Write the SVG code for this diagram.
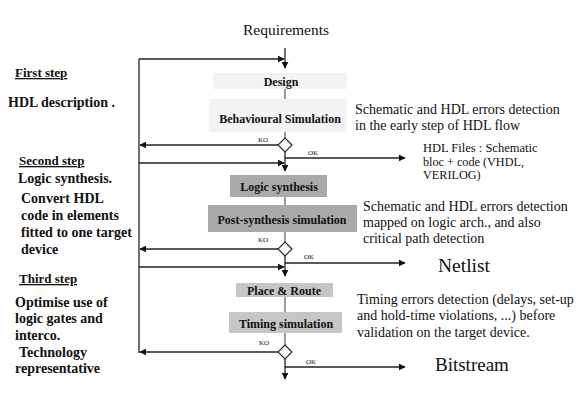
<svg xmlns="http://www.w3.org/2000/svg" width="588" height="419" viewBox="0 0 588 419">
<defs>
<style>
.t{font-family:"Liberation Serif","Times New Roman",serif;fill:#111}
.b{font-weight:bold}
.lbl{font-family:"Liberation Serif","Times New Roman",serif;font-weight:bold;font-size:12px;fill:#111;text-anchor:middle}
.sm{font-family:"Liberation Serif","Times New Roman",serif;font-size:7px;fill:#111}
.ln{stroke:#222;stroke-width:1.3;fill:none}
.ln2{stroke:#666;stroke-width:1.3;fill:none}
.dia{fill:#fff;stroke:#222;stroke-width:1.1}
</style>
<marker id="ah" viewBox="0 0 10 10" refX="9" refY="5" markerWidth="7" markerHeight="7" markerUnits="userSpaceOnUse" orient="auto">
<path d="M0,0 L10,5 L0,10 z" fill="#111"/>
</marker>
</defs>
<rect width="588" height="419" fill="#fff"/>

<text class="t" x="286" y="35" font-size="15.5" text-anchor="middle">Requirements</text>

<g id="left-text">
<text class="t b" x="15" y="77" font-size="13" text-decoration="underline">First step</text>
<text class="t b" x="8" y="107" font-size="14">HDL description .</text>
<text class="t b" x="19" y="165" font-size="13" text-decoration="underline">Second step</text>
<text class="t b" x="18" y="183" font-size="14">Logic synthesis.</text>
<text class="t b" x="21" y="203" font-size="14">Convert HDL</text>
<text class="t b" x="21" y="220" font-size="14">code in elements</text>
<text class="t b" x="21" y="237" font-size="14">fitted to one target</text>
<text class="t b" x="21" y="254" font-size="14">device</text>
<text class="t b" x="19" y="283" font-size="13" text-decoration="underline">Third step</text>
<text class="t b" x="15" y="307" font-size="14">Optimise use of</text>
<text class="t b" x="15" y="323" font-size="14">logic gates and</text>
<text class="t b" x="15" y="340" font-size="14">interco.</text>
<text class="t b" x="19" y="357" font-size="14">Technology</text>
<text class="t b" x="15" y="373" font-size="14">representative</text>
</g>

<g id="connectors">
<line class="ln" x1="285" y1="48" x2="285" y2="68" marker-end="url(#ah)"/>
<line class="ln" x1="139" y1="59" x2="284" y2="59" marker-end="url(#ah)"/>
<line class="ln" x1="139" y1="59" x2="139" y2="353"/>
<line class="ln2" x1="285" y1="89" x2="285" y2="99"/>
<line class="ln2" x1="285" y1="132" x2="285" y2="138"/>
<line class="ln" x1="278" y1="145" x2="140" y2="145" marker-end="url(#ah)"/>
<line class="ln" x1="285" y1="152" x2="285" y2="171" marker-end="url(#ah)"/>
<line class="ln" x1="285" y1="158" x2="405" y2="158" marker-end="url(#ah)"/>
<line class="ln" x1="139" y1="163" x2="284" y2="163" marker-end="url(#ah)"/>
<line class="ln2" x1="285" y1="197" x2="285" y2="205"/>
<line class="ln2" x1="285" y1="232" x2="285" y2="242"/>
<line class="ln" x1="278" y1="249" x2="140" y2="249" marker-end="url(#ah)"/>
<line class="ln" x1="285" y1="256" x2="285" y2="276" marker-end="url(#ah)"/>
<line class="ln" x1="285" y1="263" x2="405" y2="263" marker-end="url(#ah)"/>
<line class="ln" x1="139" y1="267" x2="284" y2="267" marker-end="url(#ah)"/>
<line class="ln2" x1="285" y1="297" x2="285" y2="312"/>
<line class="ln2" x1="285" y1="333" x2="285" y2="345"/>
<line class="ln" x1="278" y1="352" x2="140" y2="352" marker-end="url(#ah)"/>
<line class="ln" x1="285" y1="359" x2="285" y2="379" marker-end="url(#ah)"/>
<line class="ln" x1="285" y1="367" x2="405" y2="367" marker-end="url(#ah)"/>
<text class="sm" x="258" y="142">KO</text>
<text class="sm" x="308" y="155">OK</text>
<text class="sm" x="258" y="242">KO</text>
<text class="sm" x="304" y="259">OK</text>
<text class="sm" x="259" y="345">KO</text>
<text class="sm" x="306" y="364">OK</text>
</g>

<g id="design">
<rect x="213" y="73" width="134" height="16" fill="#f3f3f3"/>
<text class="lbl" x="281" y="86">Design</text>
</g>
<g id="behavioural">
<rect x="209" y="99" width="138" height="33" fill="#f3f3f3"/>
<text class="lbl" x="280" y="123" font-size="12.5">Behavioural Simulation</text>
</g>
<g id="decision1"><path class="dia" d="M285,138 L292,145 L285,152 L278,145 z"/></g>

<g id="logic-synthesis">
<rect x="230" y="175" width="97" height="22" fill="#aaaaaa"/>
<text class="lbl" x="279" y="191">Logic synthesis</text>
</g>
<g id="post-synthesis">
<rect x="208" y="205" width="149" height="27" fill="#aaaaaa"/>
<text class="lbl" x="282" y="224">Post-synthesis simulation</text>
</g>
<g id="decision2"><path class="dia" d="M285,242 L292,249 L285,256 L278,249 z"/></g>

<g id="place-route">
<rect x="236" y="283" width="97" height="14" fill="#c6c6c6"/>
<text class="lbl" x="284" y="295">Place &amp; Route</text>
</g>
<g id="timing-sim">
<rect x="229" y="312" width="113" height="21" fill="#c6c6c6"/>
<text class="lbl" x="286" y="328">Timing simulation</text>
</g>
<g id="decision3"><path class="dia" d="M285,345 L292,352 L285,359 L278,352 z"/></g>

<g id="right-text">
<text class="t" x="355" y="114" font-size="14">Schematic and HDL errors detection</text>
<text class="t" x="355" y="130" font-size="14">in the early step of  HDL flow</text>
<text class="t" x="423" y="152" font-size="12.5">HDL Files : Schematic</text>
<text class="t" x="423" y="165.5" font-size="12.2">bloc + code (VHDL,</text>
<text class="t" x="423" y="179" font-size="12.2">VERILOG)</text>
<text class="t" x="363" y="211" font-size="14">Schematic and HDL errors detection</text>
<text class="t" x="363" y="227" font-size="14">mapped on logic arch., and also</text>
<text class="t" x="363" y="243" font-size="14">critical path detection</text>
<text class="t" x="438" y="272" font-size="19.5">Netlist</text>
<text class="t" x="357" y="304" font-size="14">Timing errors detection (delays, set-up</text>
<text class="t" x="357" y="320" font-size="14">and hold-time violations, ...)  before</text>
<text class="t" x="357" y="337" font-size="14">validation on the target device.</text>
<text class="t" x="435" y="371" font-size="19">Bitstream</text>
</g>
</svg>
